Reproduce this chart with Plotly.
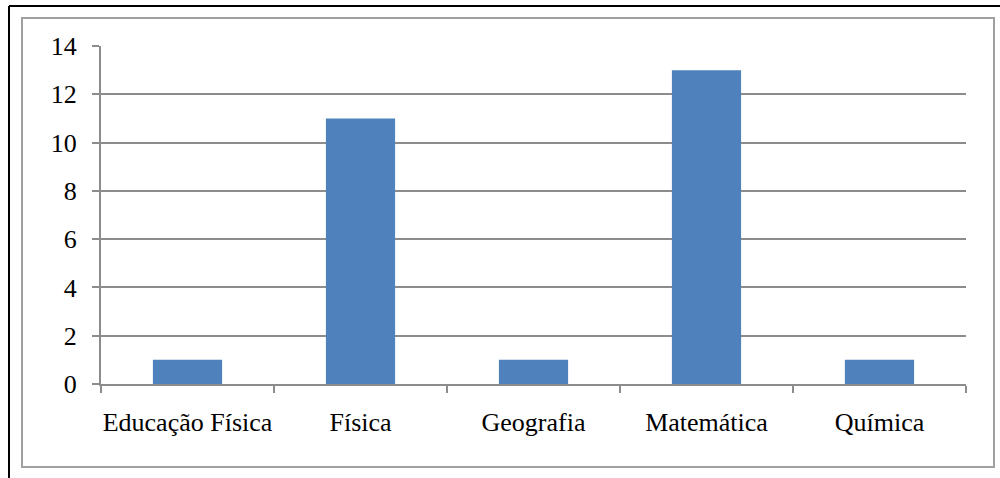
import plotly.graph_objects as go

categories = ["Educação Física", "Física", "Geografia", "Matemática", "Química"]
values = [1, 11, 1, 13, 1]
y_ticks = [0, 2, 4, 6, 8, 10, 12, 14]

GRID = "#8c8c8c"
FONT = "Liberation Serif"

fig = go.Figure(go.Bar(x=categories, y=values, marker_color="#4f81bd",
                       marker_line_width=0, width=0.4))

fig.update_layout(
    width=1000, height=478,
    margin=dict(l=101, r=34, t=46, b=94, autoexpand=False),
    paper_bgcolor="white", plot_bgcolor="white",
    font=dict(family=FONT, size=26, color="black"),
    showlegend=False,
    bargap=0.6,
)
fig.update_xaxes(
    showline=True, linecolor=GRID, linewidth=2,
    ticks="outside", tickson="boundaries", ticklen=7, tickwidth=2, tickcolor=GRID,
    ticklabelstandoff=14, showgrid=False, tickangle=0, automargin=False,
    tickfont=dict(family=FONT, size=26, color="black"),
)
fig.update_yaxes(
    range=[0, 14], tickvals=y_ticks, showgrid=True, gridcolor=GRID, gridwidth=2,
    showline=True, linecolor=GRID, linewidth=2, zeroline=False,
    ticks="outside", ticklen=7, tickwidth=2, tickcolor=GRID,
    ticklabelstandoff=10, automargin=False,
    tickfont=dict(family=FONT, size=26, color="black"),
)
# outer frame lines
fig.add_shape(type="rect", xref="paper", yref="paper",
              x0=-79/865, x1=(994-101)/865, y0=(384-467)/338, y1=(384-18)/338,
              line=dict(color="#a0a0a0", width=2), layer="below")
fig.add_shape(type="line", xref="paper", yref="paper",
              x0=-92/865, x1=(1000-101)/865, y0=(384-6)/338, y1=(384-6)/338,
              line=dict(color="black", width=2))
fig.add_shape(type="line", xref="paper", yref="paper",
              x0=-92/865, x1=-92/865, y0=(384-6)/338, y1=(384-478)/338,
              line=dict(color="black", width=2))

fig.write_html("out.html")
